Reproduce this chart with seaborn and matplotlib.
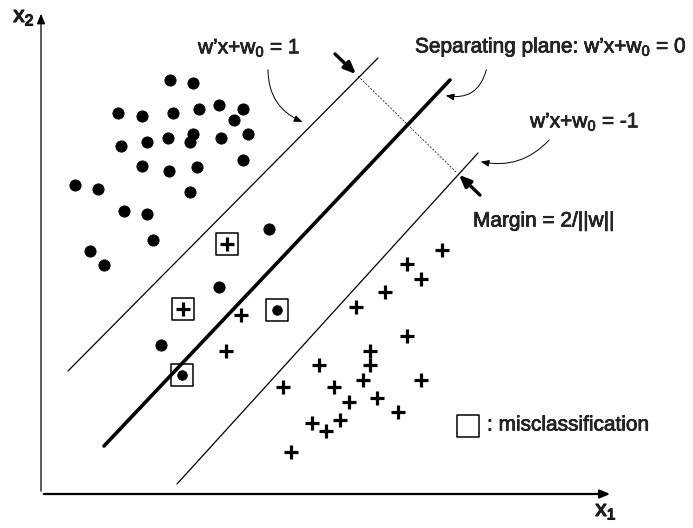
import matplotlib
matplotlib.use("Agg")
import matplotlib.pyplot as plt
import matplotlib.patheffects as pe
import seaborn as sns

# --- data (x1, x2 coordinates) ---
dots_x = [129, 152, 77, 101, 132, 158, 178, 202, 193, 80, 106, 127, 152, 149, 180, 207,
          101, 128, 156, 202, 34, 57, 149, 83, 106, 112, 228, 49, 63, 178, 120]
dots_y = [414, 411, 381, 378, 381, 385, 389, 385, 374, 348, 352, 356, 360, 352, 356, 360,
          328, 323, 327, 334, 309, 305, 302, 283, 280, 254, 265, 243, 229, 207, 149]

plus_x = [200, 185, 278, 401, 366, 380, 344, 315, 366, 329, 329, 322, 380, 242, 293,
          308, 336, 357, 271, 285, 299, 250]
plus_y = [179, 143, 129, 244, 230, 215, 202, 187, 158, 143, 129, 114, 114, 107, 107,
          92, 96, 82, 71, 63, 74, 42]

# misclassified points
mis_dot_x = [236, 141]
mis_dot_y = [184, 119]
mis_plus_x = [186, 142]
mis_plus_y = [250, 185]

# hyperplanes: endpoints (x1 start, x1 end), (x2 start, x2 end)
plane_pos_x = [27, 337]
plane_pos_y = [123, 436]
plane_zero_x = [63, 409]
plane_zero_y = [48, 414]
plane_neg_x = [136, 437]
plane_neg_y = [10, 341]

margin_x = [317, 416]
margin_y = [418, 321]

sns.set_style("white")
plt.rcParams["font.family"] = ["Liberation Sans", "DejaVu Sans"]
plt.rcParams["mathtext.fontset"] = "custom"
plt.rcParams["mathtext.rm"] = "Liberation Sans"
plt.rcParams["mathtext.it"] = "Liberation Sans"
plt.rcParams["mathtext.bf"] = "Liberation Sans:bold"
plt.rcParams["mathtext.default"] = "regular"

fig = plt.figure(figsize=(6.93, 5.28), dpi=100)
ax = fig.add_axes([0, 0, 1, 1])
ax.set_xlim(-41, 652)
ax.set_ylim(-34, 494)
ax.axis("off")

# slightly heavier strokes for the annotation text
heavy = [pe.withStroke(linewidth=0.5, foreground="black")]
heavier = [pe.withStroke(linewidth=0.9, foreground="black")]

# coordinate axes
ax.annotate("", xy=(572, 0), xytext=(0, 0),
            arrowprops=dict(arrowstyle="-|>,head_length=0.6,head_width=0.25", color="black", lw=1.6))
ax.annotate("", xy=(0, 483), xytext=(0, 0),
            arrowprops=dict(arrowstyle="-|>,head_length=0.6,head_width=0.25", color="black", lw=0.9))
ax.text(565, -17, "x$_1$", fontsize=16, ha="center", va="center", path_effects=heavier)
ax.text(-17, 477, "x$_2$", fontsize=16, ha="center", va="center", path_effects=heavier)

# hyperplanes
sns.lineplot(x=plane_pos_x, y=plane_pos_y, color="black", lw=0.9, ax=ax, sort=False)
sns.lineplot(x=plane_zero_x, y=plane_zero_y, color="black", lw=2.6, ax=ax, sort=False)
sns.lineplot(x=plane_neg_x, y=plane_neg_y, color="black", lw=0.9, ax=ax, sort=False)
ax.plot(margin_x, margin_y, color="black", lw=0.5, ls=(0, (3, 2)))

# margin arrows
ax.annotate("", xy=(margin_x[0], margin_y[0]), xytext=(margin_x[0] - 25, margin_y[0] + 24),
            arrowprops=dict(arrowstyle="-|>,head_length=0.7,head_width=0.3", color="black", lw=2.4))
ax.annotate("", xy=(margin_x[1], margin_y[1]), xytext=(margin_x[1] + 25, margin_y[1] - 24),
            arrowprops=dict(arrowstyle="-|>,head_length=0.7,head_width=0.3", color="black", lw=2.4))

# points
sns.scatterplot(x=dots_x, y=dots_y, marker="o", color="black", s=65, edgecolor="black", ax=ax)
sns.scatterplot(x=plus_x + mis_plus_x, y=plus_y + mis_plus_y, marker="+", color="black",
                s=90, linewidth=2.3, ax=ax)
sns.scatterplot(x=mis_dot_x, y=mis_dot_y, marker="o", color="black", s=48, edgecolor="black", ax=ax)
ax.scatter(mis_dot_x + mis_plus_x, mis_dot_y + mis_plus_y, marker="s", s=230,
           facecolors="none", edgecolors="black", linewidths=1.1)

# labels
fs = 15
ax.text(157, 446, "w’x+w$_0$ = 1", fontsize=fs, ha="left", va="center", path_effects=heavy)
ax.text(374, 447, "Separating plane: w’x+w$_0$ = 0", fontsize=fs, ha="left", va="center",
        path_effects=heavy)
ax.text(489, 372, "w’x+w$_0$ = -1", fontsize=fs, ha="left", va="center", path_effects=heavy)
ax.text(432, 273, "Margin = 2/||w||", fontsize=fs, ha="left", va="center", path_effects=heavy)

curve = dict(arrowstyle="-|>,head_length=0.5,head_width=0.2", color="black", lw=0.7)
ax.annotate("", xy=(264, 371), xytext=(227, 427),
            arrowprops=dict(connectionstyle="arc3,rad=0.35", **curve))
ax.annotate("", xy=(402, 399), xytext=(446, 427),
            arrowprops=dict(connectionstyle="arc3,rad=-0.5", **curve))
ax.annotate("", xy=(437, 333), xytext=(510, 356),
            arrowprops=dict(connectionstyle="arc3,rad=-0.3", **curve))

# legend for misclassification
ax.scatter([427], [68], marker="s", s=230, facecolors="none", edgecolors="black", linewidths=1.1)
ax.text(446, 69, ": misclassification", fontsize=fs, ha="left", va="center", path_effects=heavy)

fig.savefig("out.png", dpi=100)
